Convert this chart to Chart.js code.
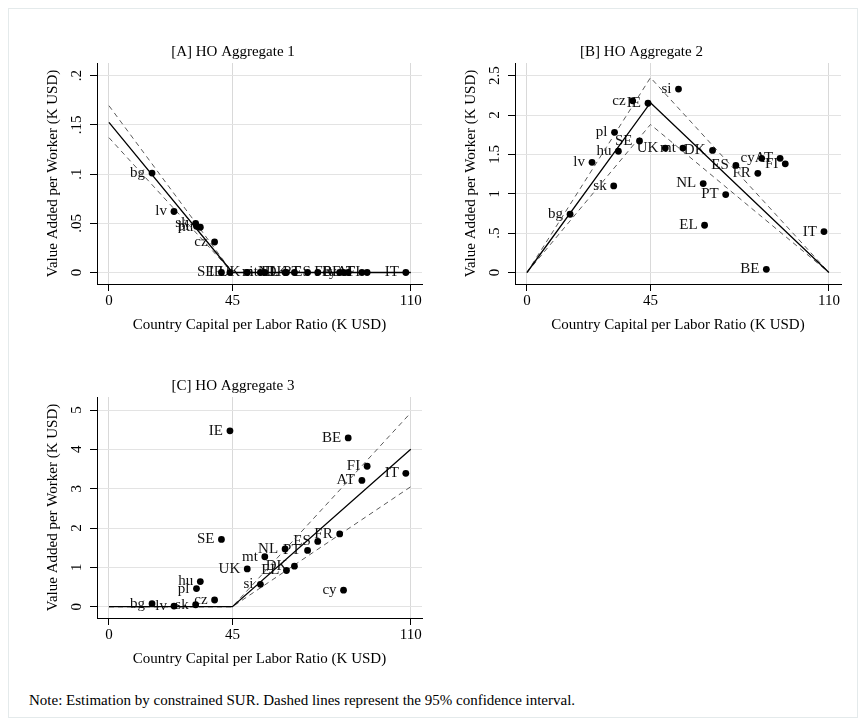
<!DOCTYPE html>
<html>
<head>
<meta charset="utf-8">
<script src="https://cdn.jsdelivr.net/npm/chart.js@4.4.1/dist/chart.umd.min.js"></script>
<style>
  body { margin: 0; background: #fff; }
  #page { position: relative; width: 865px; height: 725px; background: #fff; overflow: hidden; }
  #frame { position: absolute; left: 8px; top: 8px; width: 848px; height: 708px; border: 1px solid #e4eaeb; }
  canvas { position: absolute; }
  #note { position: absolute; left: 29px; top: 692px; font: 15px "Liberation Serif", "Times New Roman", serif; color: #000; white-space: nowrap; }
</style>
</head>
<body>
<div id="page">
  <div id="frame"></div>
  <canvas id="chartA" width="383" height="312" style="left:43px; top:24px"></canvas>
  <canvas id="chartB" width="404" height="312" style="left:441px; top:24px"></canvas>
  <canvas id="chartC" width="383" height="312" style="left:43px; top:358px"></canvas>
  <div id="note">Note: Estimation by constrained SUR. Dashed lines represent the 95% confidence interval.</div>
</div>
<script>
// countries and their capital per labor ratio (K USD), same in every panel
const countries = ['bg', 'lv', 'sk', 'pl', 'hu', 'cz', 'SE', 'IE', 'UK', 'si', 'mt', 'NL', 'EL', 'DK', 'PT', 'ES', 'FR', 'cy', 'BE', 'AT', 'FI', 'IT'];
const capital = [15.7, 23.7, 31.6, 31.9, 33.3, 38.5, 41.0, 44.1, 50.4, 55.2, 56.8, 64.2, 64.7, 67.6, 72.4, 76.1, 84.1, 85.5, 87.2, 92.2, 94.1, 108.2];

// value added per worker (K USD)
const vaAgg1 = [0.101, 0.062, 0.050, 0.047, 0.046, 0.031, 0, 0, 0, 0, 0, 0, 0, 0, 0, 0, 0, 0, 0, 0, 0, 0];
const vaAgg2 = [0.74, 1.40, 1.10, 1.78, 1.54, 2.18, 1.67, 2.15, 1.58, 2.33, 1.58, 1.13, 0.60, 1.55, 0.99, 1.36, 1.26, 1.45, 0.04, 1.45, 1.38, 0.52];
const vaAgg3 = [0.076, 0.017, 0.05, 0.46, 0.64, 0.17, 1.71, 4.47, 0.96, 0.57, 1.27, 1.47, 0.92, 1.03, 1.43, 1.66, 1.85, 0.42, 4.29, 3.21, 3.57, 3.39];

// fitted piecewise line and 95% bounds at the knots
const knots = [0, 45, 110];
const fitAgg1 = [0.1525, 0, 0];
const upAgg1 = [0.1695, 0, 0];
const loAgg1 = [0.137, 0, 0];
const fitAgg2 = [0, 2.157, 0];
const upAgg2 = [0, 2.475, 0];
const loAgg2 = [0, 1.88, 0];
const fitAgg3 = [0, 0, 4.0];
const upAgg3 = [0, 0, 4.93];
const loAgg3 = [0, 0, 3.05];

// tick labels
const xTicks = [0, 45, 110];
const yTicksA = [0, 0.05, 0.1, 0.15, 0.2];
const yLabelsA = ['0', '.05', '.1', '.15', '.2'];
const yTicksB = [0, 0.5, 1, 1.5, 2, 2.5];
const yLabelsB = ['0', '.5', '1', '1.5', '2', '2.5'];
const yTicksC = [0, 1, 2, 3, 4, 5];
const yLabelsC = ['0', '1', '2', '3', '4', '5'];

Chart.defaults.font.family = '"Liberation Serif", "Times New Roman", serif';
Chart.defaults.font.size = 15;
Chart.defaults.color = '#000';

// country names left of each marker, under the lines
const pointLabels = {
  id: 'pointLabels',
  beforeDatasetsDraw(chart) {
    const ctx = chart.ctx;
    const meta = chart.getDatasetMeta(0);
    ctx.save();
    ctx.font = '15px "Liberation Serif", "Times New Roman", serif';
    ctx.fillStyle = '#111';
    ctx.textAlign = 'right';
    ctx.textBaseline = 'middle';
    meta.data.forEach((pt, i) => ctx.fillText(countries[i], pt.x - 7, pt.y));
    ctx.restore();
  }
};

const pts = (xs, ys) => xs.map((x, i) => ({ x: x, y: ys[i] }));

function makePanel(id, p) {
  const line = (ys, dashed) => ({
    data: pts(knots, ys),
    showLine: true,
    pointRadius: 0,
    borderColor: dashed ? '#5a5a5a' : '#000',
    borderWidth: dashed ? 1 : 1.3,
    borderDash: dashed ? [5, 4] : []
  });
  return new Chart(document.getElementById(id), {
    type: 'scatter',
    data: {
      datasets: [
        { data: pts(capital, p.va), pointRadius: 3.4, pointBorderWidth: 0, backgroundColor: '#000', borderColor: '#000' },
        line(p.fit, false),
        line(p.up, true),
        line(p.lo, true)
      ]
    },
    plugins: [pointLabels],
    options: {
      responsive: false,
      animation: false,
      events: [],
      layout: { padding: { left: 0, right: 3, top: 0, bottom: 0 } },
      plugins: {
        legend: { display: false },
        tooltip: { enabled: false },
        title: { display: true, text: p.title, color: '#000', font: { size: 15, weight: 'normal' }, padding: { top: 19, bottom: 2 } }
      },
      scales: {
        x: {
          type: 'linear',
          min: -4.36,
          max: p.xMax,
          afterBuildTicks: s => { s.ticks = xTicks.map(v => ({ value: v })); },
          afterFit: s => { s.height = 52; },
          ticks: { padding: 1.5, color: '#000', maxRotation: 0 },
          grid: { color: '#d9d9d9', tickColor: '#000', tickLength: 7, tickWidth: 1 },
          border: { display: true, color: '#000', width: 1 },
          title: { display: true, text: 'Country Capital per Labor Ratio (K USD)', color: '#000', padding: { top: 0, bottom: 2 } }
        },
        y: {
          type: 'linear',
          min: p.yMin,
          max: p.yMax,
          afterBuildTicks: s => { s.ticks = p.yTicks.map(v => ({ value: v })); },
          afterFit: s => { s.width = p.yWidth; },
          ticks: {
            minRotation: 90, maxRotation: 90, crossAlign: 'center', padding: p.yPad, color: '#000',
            callback: (v, i) => p.yLabels[i]
          },
          grid: { color: '#e3e3e3', tickColor: '#000', tickLength: 7, tickWidth: 1 },
          border: { display: true, color: '#000', width: 1 },
          title: { display: true, text: 'Value Added per Worker (K USD)', color: '#000', padding: { top: p.yTitlePad, bottom: 0 } }
        }
      }
    }
  });
}

makePanel('chartA', {
  title: '[A] HO Aggregate 1', va: vaAgg1, fit: fitAgg1, up: upAgg1, lo: loAgg1,
  xMax: 114.1, yMin: -0.01169, yMax: 0.2129, yTicks: yTicksA, yLabels: yLabelsA,
  yWidth: 54, yPad: 3.6, yTitlePad: 1
});
makePanel('chartB', {
  title: '[B] HO Aggregate 2', va: vaAgg2, fit: fitAgg2, up: upAgg2, lo: loAgg2,
  xMax: 114.4, yMin: -0.146, yMax: 2.661, yTicks: yTicksB, yLabels: yLabelsB,
  yWidth: 74, yPad: 3.6, yTitlePad: 21
});
makePanel('chartC', {
  title: '[C] HO Aggregate 3', va: vaAgg3, fit: fitAgg3, up: upAgg3, lo: loAgg3,
  xMax: 114.1, yMin: -0.287, yMax: 5.331, yTicks: yTicksC, yLabels: yLabelsC,
  yWidth: 54, yPad: 9.25, yTitlePad: 1
});
</script>
</body>
</html>
